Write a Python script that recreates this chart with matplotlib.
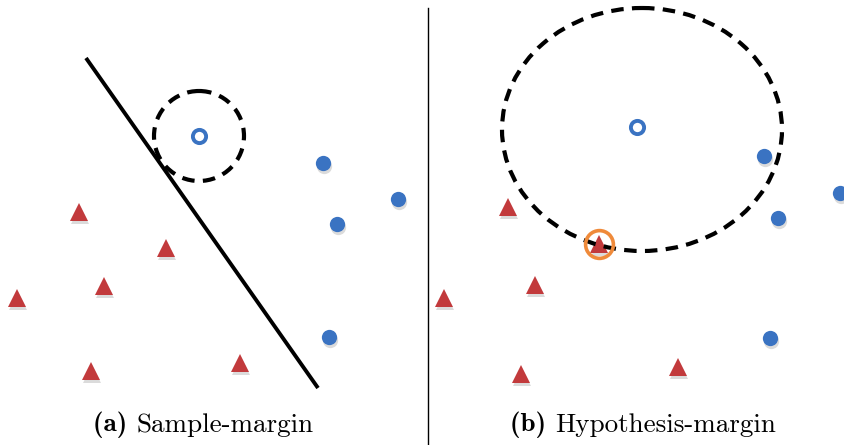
import matplotlib
matplotlib.use("Agg")
import matplotlib.pyplot as plt
from matplotlib.patches import Ellipse

# Panel (a): sample margin
a_tri_x = [79, 166, 17, 104, 91, 240]
a_tri_y = [212, 248, 298, 286, 371, 363]
a_dot_x = [323, 398, 337, 329]
a_dot_y = [163, 199, 224, 337]
a_query = (199, 136)
a_radius = 45
a_boundary_x = [86, 318]
a_boundary_y = [58, 388]

# Panel (b): hypothesis margin
b_tri_x = [508, 535, 444, 521, 678, 599]
b_tri_y = [207, 285, 298, 374, 367, 244]
b_dot_x = [764, 778, 840, 770]
b_dot_y = [156, 218, 193, 338]
b_query = (637, 127)
b_ellipse_center = (642, 129.5)
b_ellipse_w = 280
b_ellipse_h = 243
b_nearest = (599, 244)

captions = [("(a)", "Sample-margin", 203), ("(b)", "Hypothesis-margin", 643)]

RED = "#c23a3c"
BLUE = "#3a73c2"

fig = plt.figure(figsize=(8.45, 4.45), dpi=100)
ax = fig.add_axes([0, 0, 1, 1])
ax.set_xlim(0, 845)
ax.set_ylim(445, 0)
ax.axis("off")

def draw_points(tx, ty, dx, dy):
    # soft drop shadows
    ax.plot([x + 1 for x in tx], [y + 3 for y in ty], "^", ms=13, color="#999999",
            alpha=0.35, mew=0, zorder=2)
    ax.plot([x + 1 for x in dx], [y + 3 for y in dy], "o", ms=11, color="#999999",
            alpha=0.35, mew=0, zorder=2)
    ax.plot(tx, ty, "^", ms=13, color=RED, mew=0, zorder=3)
    ax.plot(dx, dy, "o", ms=11, color=BLUE, mew=0, zorder=3)

draw_points(a_tri_x, a_tri_y, a_dot_x, a_dot_y)
draw_points(b_tri_x, b_tri_y, b_dot_x, b_dot_y)

# decision boundary
ax.plot(a_boundary_x, a_boundary_y, "-", color="black", lw=2.8, zorder=4,
        solid_capstyle="butt")

# margin circle around the query point
circ = Ellipse(a_query, 2 * a_radius, 2 * a_radius, fill=False, ec="black",
               lw=3.0, ls=(0, (3.0, 2.0)), zorder=4)
ax.add_patch(circ)

# margin ellipse in hypothesis space
ell = Ellipse(b_ellipse_center, b_ellipse_w, b_ellipse_h, fill=False, ec="black",
              lw=3.0, ls=(0, (3.0, 2.0)), zorder=4)
ax.add_patch(ell)

# query points (hollow)
for q in (a_query, b_query):
    ax.plot(*q, "o", ms=9.5, mfc="white", mec=BLUE, mew=2.8, zorder=5)

# nearest opposite-class point highlighted
ax.plot(*b_nearest, "o", ms=20, mfc="none", mec="#ef8a3a", mew=2.6, zorder=5)

# panel divider
ax.plot([428, 428], [8, 445], "-", color="black", lw=1.0, zorder=1)

# captions
for label, title, cx in captions:
    ax.text(cx, 425, label + " ", fontfamily="cmb10", fontsize=19.5,
            ha="right", va="center")
    ax.text(cx, 425, title, fontfamily="cmr10", fontsize=19.5, ha="left", va="center")

# center the two-part captions
fig.canvas.draw()
r = fig.canvas.get_renderer()
texts = ax.texts
for i in range(0, len(texts), 2):
    b1 = texts[i].get_window_extent(r)
    b2 = texts[i + 1].get_window_extent(r)
    total = b1.width + b2.width
    cx = captions[i // 2][2]
    left = cx - total / 2
    texts[i].set_x(left + b1.width)
    texts[i + 1].set_x(left + b1.width)

fig.savefig("out.png", dpi=100)
